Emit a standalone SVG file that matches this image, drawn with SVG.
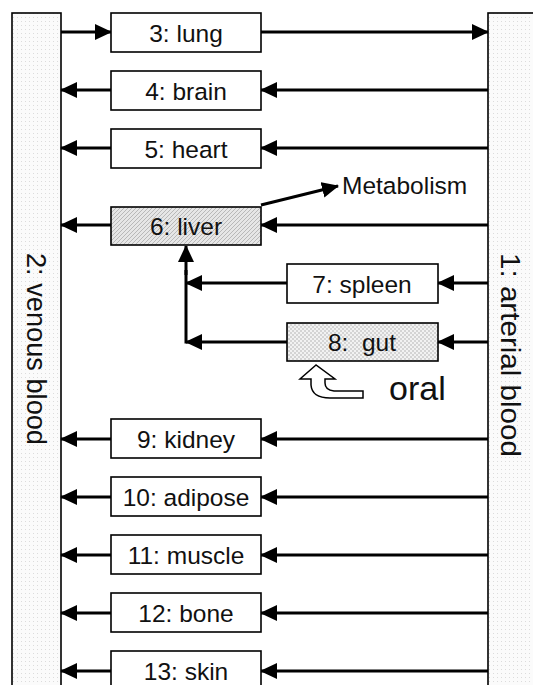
<svg xmlns="http://www.w3.org/2000/svg" width="533" height="685" viewBox="0 0 533 685">
<style>
.box{fill:#fff;stroke:#000;stroke-width:1.6}
.bar{fill:url(#dots);stroke:#000;stroke-width:1.6}
.lbl{font-family:"Liberation Sans",Arial,sans-serif;font-size:24.5px;fill:#111;text-anchor:middle}
.ln{stroke:#000;stroke-width:3;fill:none}
.arr{stroke:#000;stroke-width:3;fill:none;marker-end:url(#ah)}
</style>
<defs>
<marker id="ah" markerUnits="userSpaceOnUse" viewBox="0 0 17 16" markerWidth="17" markerHeight="16" refX="16" refY="8" orient="auto">
<path d="M0,0 L17,8 L0,16 z" fill="#000"/>
</marker>
<pattern id="dots" width="4" height="4" patternUnits="userSpaceOnUse">
<rect width="4" height="4" fill="#fbfbfb"/>
<rect x="1" y="1" width="1" height="1" fill="#dcdcdc"/>
</pattern>
<pattern id="hatch" width="4" height="4" patternUnits="userSpaceOnUse">
<rect width="4" height="4" fill="#e6e6e6"/>
<path d="M-1,1 L1,-1 M0,4 L4,0 M3,5 L5,3" stroke="#b8b8b8" stroke-width="1"/>
</pattern>
<pattern id="cross" width="4" height="4" patternUnits="userSpaceOnUse">
<rect width="4" height="4" fill="#d4d4d4"/>
<rect x="0" y="0" width="2" height="2" fill="#f2f2f2"/>
<rect x="2" y="2" width="2" height="2" fill="#f2f2f2"/>
</pattern>
</defs>
<g id="venous">
<rect class="bar" x="12" y="13" width="49" height="680"/>
<text class="lbl" transform="translate(27,349) rotate(90)" style="font-size:27px" textLength="192" lengthAdjust="spacingAndGlyphs">2: venous blood</text>
</g>
<g id="arterial">
<rect class="bar" x="488" y="13" width="60" height="680"/>
<text class="lbl" transform="translate(501,355) rotate(90)" style="font-size:27px" textLength="204" lengthAdjust="spacingAndGlyphs">1: arterial blood</text>
</g>
<g id="connectors">
<path class="arr" d="M61,32 H111"/>
<path class="arr" d="M261,32 H488"/>
<path class="arr" d="M488,90 H261"/><path class="arr" d="M111,90 H61"/>
<path class="arr" d="M488,148 H261"/><path class="arr" d="M111,148 H61"/>
<path class="arr" d="M488,225 H261"/><path class="arr" d="M111,225 H61"/>
<path class="arr" d="M261,205 L338,186"/>
<path class="arr" d="M488,283 H438"/><path class="arr" d="M287,283 H186"/>
<path class="arr" d="M488,342 H438"/><path class="arr" d="M287,342 H186"/>
<path class="ln" d="M186,343.5 V270"/>
<path class="arr" d="M186,275 V246"/>
<path class="arr" d="M488,439 H261"/><path class="arr" d="M111,439 H61"/>
<path class="arr" d="M488,497 H261"/><path class="arr" d="M111,497 H61"/>
<path class="arr" d="M488,555 H261"/><path class="arr" d="M111,555 H61"/>
<path class="arr" d="M488,613 H261"/><path class="arr" d="M111,613 H61"/>
<path class="arr" d="M488,671 H261"/><path class="arr" d="M111,671 H61"/>
</g>
<g id="lung"><rect class="box" x="111" y="13" width="150" height="39"/><text class="lbl" x="186" y="42">3: lung</text></g>
<g id="brain"><rect class="box" x="111" y="71" width="150" height="39"/><text class="lbl" x="186" y="100">4: brain</text></g>
<g id="heart"><rect class="box" x="111" y="129" width="150" height="39"/><text class="lbl" x="186" y="158">5: heart</text></g>
<g id="liver"><rect class="box" x="111" y="207" width="150" height="38" style="fill:url(#hatch)"/><text class="lbl" x="186" y="235">6: liver</text></g>
<g id="spleen"><rect class="box" x="287" y="264" width="151" height="39"/><text class="lbl" x="362" y="293">7: spleen</text></g>
<g id="gut"><rect class="box" x="287" y="323" width="151" height="38" style="fill:url(#cross)"/><text class="lbl" x="362" y="351" xml:space="preserve">8:  gut</text></g>
<g id="kidney"><rect class="box" x="111" y="419" width="150" height="39"/><text class="lbl" x="186" y="448">9: kidney</text></g>
<g id="adipose"><rect class="box" x="111" y="477" width="150" height="39"/><text class="lbl" x="186" y="506">10: adipose</text></g>
<g id="muscle"><rect class="box" x="111" y="535" width="150" height="39"/><text class="lbl" x="186" y="564">11: muscle</text></g>
<g id="bone"><rect class="box" x="111" y="593" width="150" height="39"/><text class="lbl" x="186" y="622">12: bone</text></g>
<g id="skin"><rect class="box" x="111" y="651" width="150" height="39"/><text class="lbl" x="186" y="680">13: skin</text></g>
<g id="metabolism"><text class="lbl" x="342" y="194" style="text-anchor:start">Metabolism</text></g>
<g id="oral">
<path d="M316,365 L300,379 L311,379 L311,385 Q312,398 330,398 L363,398 L363,391 L334,391 Q325,390 325,383 L325,379 L335,379 Z" fill="#fff" stroke="#000" stroke-width="1.5"/>
<text class="lbl" x="389" y="400" style="text-anchor:start;font-size:34px">oral</text>
</g>
</svg>
